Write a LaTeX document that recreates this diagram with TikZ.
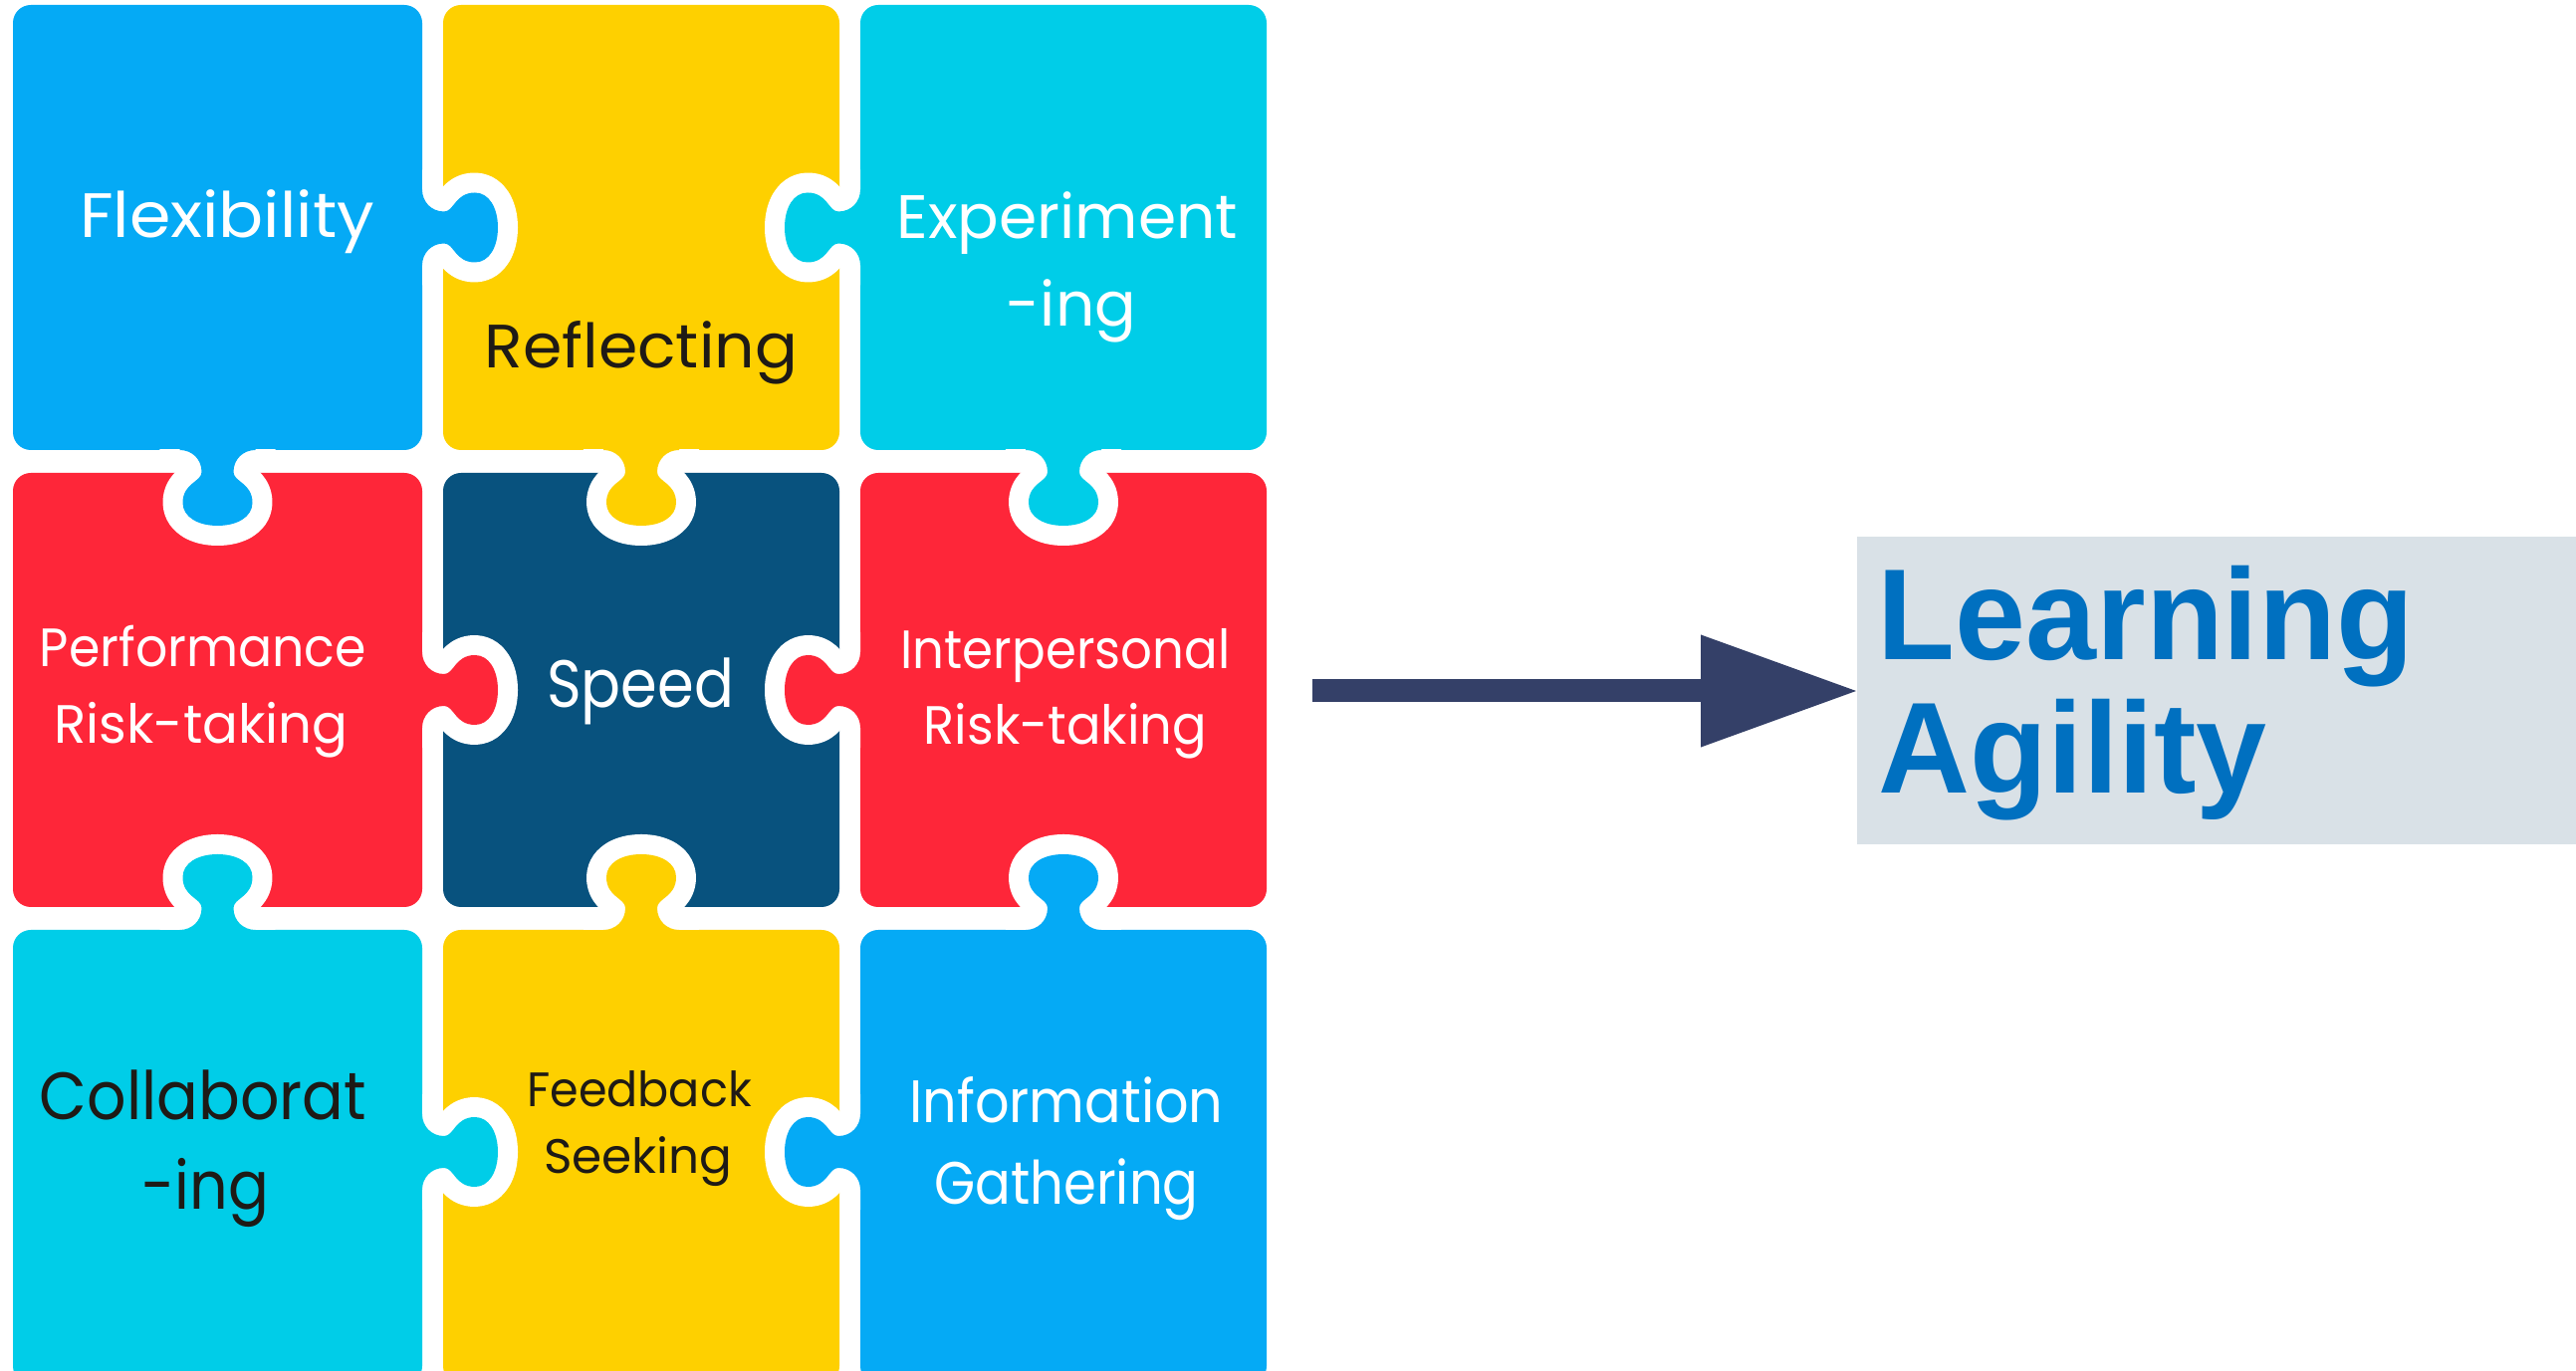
\documentclass[tikz,border=0pt]{standalone}
\usepackage{graphicx}
\usepackage{fontspec}
\setmainfont{Poppins}
\newfontfamily\agfont[FakeStretch=0.98]{Liberation Sans}
\usetikzlibrary{arrows.meta}

\definecolor{pzblue}{RGB}{5,170,245}
\definecolor{pzyellow}{RGB}{254,208,0}
\definecolor{pzcyan}{RGB}{0,205,232}
\definecolor{pzred}{RGB}{254,38,57}
\definecolor{pznavy}{RGB}{8,82,126}
\definecolor{inkdark}{RGB}{30,26,22}
\definecolor{arrowslate}{RGB}{52,64,104}
\definecolor{boxgrey}{RGB}{217,225,231}
\definecolor{agblue}{RGB}{0,112,192}

% horizontal squeeze/stretch of a label
\newcommand\hs[2]{\scalebox{#1}[1]{#2}}

% outline of one puzzle tab, in local units: u points away from the
% owning piece, v runs across the tab
\newcommand\tabshape{(-4,-38) -- (0,-38)
  .. controls (0,-26) and (9,-16) .. (22,-16)
  .. controls (32,-16) and (33,-35) .. (53,-35)
  .. controls (67,-35) and (76,-20) .. (76,0)
  .. controls (76,20) and (67,35) .. (53,35)
  .. controls (33,35) and (32,16) .. (22,16)
  .. controls (9,16) and (0,26) .. (0,38) -- (-4,38) -- cycle}

% #1,#2: point on the owning piece's edge; #3: direction style; #4: colour
\newcommand\puzzletab[4]{%
  \begin{scope}[shift={(#1,#2)},#3]
    \begin{scope}
      \clip (0,-130) rectangle (150,130);
      \draw[white, line width=0.4cm, line join=round] \tabshape;
    \end{scope}
    \fill[#4] \tabshape;
  \end{scope}}

\tikzset{
  tabright/.style={x={(0.01cm,0)},y={(0,0.01cm)}},
  tableft/.style={x={(-0.01cm,0)},y={(0,0.01cm)}},
  tabdown/.style={x={(0,-0.01cm)},y={(0.01cm,0)}},
  tabup/.style={x={(0,0.01cm)},y={(0.01cm,0)}},
  piece/.style={rounded corners=0.18cm},
  lbl/.style={inner sep=0pt, anchor=base},
  fs/.style={font=\fontsize{#1pt}{#1pt}\selectfont},
  light/.style={text=white},
  dark/.style={text=inkdark},
  agbox/.style={fill=boxgrey, draw=none, minimum width=7.3cm, minimum height=3.09cm, inner sep=0pt},
  agtext/.style={inner sep=0pt, anchor=base west, text=agblue,
    font=\agfont\bfseries\fontsize{37pt}{38pt}\selectfont},
  bigarrow/.style={draw=arrowslate, line width=0.23cm,
    -{Triangle[length=1.56cm, width=1.13cm, line width=0pt]}},
}

\begin{document}
\begin{tikzpicture}[x={(0.01cm,0)}, y={(0,-0.01cm)}]
\useasboundingbox (0,0) rectangle (2587,1377);
\clip (0,0) rectangle (2587,1377);

% the nine pieces
\fill[pzblue,   piece] (13,5)    rectangle (424,452);
\fill[pzyellow, piece] (445,5)   rectangle (843,452);
\fill[pzcyan,   piece] (864,5)   rectangle (1272,452);
\fill[pzred,    piece] (13,475)  rectangle (424,911);
\fill[pznavy,   piece] (445,475) rectangle (843,911);
\fill[pzred,    piece] (864,475) rectangle (1272,911);
\fill[pzcyan,   piece] (13,934)  rectangle (424,1390);
\fill[pzyellow, piece] (445,934) rectangle (843,1390);
\fill[pzblue,   piece] (864,934) rectangle (1272,1390);

% interlocking tabs
\puzzletab{424}{228.5}{tabright}{pzblue}
\puzzletab{218.5}{452}{tabdown}{pzblue}
\puzzletab{644}{452}{tabdown}{pzyellow}
\puzzletab{864}{228.5}{tableft}{pzcyan}
\puzzletab{1068}{452}{tabdown}{pzcyan}
\puzzletab{424}{693}{tabright}{pzred}
\puzzletab{864}{693}{tableft}{pzred}
\puzzletab{218.5}{934}{tabup}{pzcyan}
\puzzletab{424}{1157}{tabright}{pzcyan}
\puzzletab{644}{934}{tabup}{pzyellow}
\puzzletab{1068}{934}{tabup}{pzblue}
\puzzletab{864}{1157}{tableft}{pzblue}

% labels
\node[lbl, fs=17.9, light] (flex)   at (228,239)  {\hs{1.06}{Flexibility}};
\node[lbl, fs=17.5, dark]  (refl)   at (644,370)  {\hs{1.03}{Reflecting}};
\node[lbl, fs=17.5, light] (expA)   at (1072,240) {Experiment};
\node[lbl, fs=17.5, light] (expB)   at (1076,328) {-ing};
\node[lbl, fs=15.4, light] (perfA)  at (204,670)  {\hs{0.934}{Performance}};
\node[lbl, fs=15.4, light] (perfB)  at (202,747)  {\hs{0.98}{Risk-taking}};
\node[lbl, fs=19.1, light] (speed)  at (643,711)  {\hs{0.88}{Speed}};
\node[lbl, fs=15.4, light] (interA) at (1070,672) {\hs{0.92}{Interpersonal}};
\node[lbl, fs=15.4, light] (interB) at (1070,748) {\hs{0.945}{Risk-taking}};
\node[lbl, fs=19.1, dark]  (collA)  at (204,1125) {\hs{0.92}{Collaborat}};
\node[lbl, fs=19.1, dark]  (collB)  at (206,1215) {\hs{0.9}{-ing}};
\node[lbl, fs=13.8, dark]  (feedA)  at (642,1112) {\hs{0.95}{Feedback}};
\node[lbl, fs=13.8, dark]  (feedB)  at (641,1179) {Seeking};
\node[lbl, fs=17.1, light] (infoA)  at (1071,1128) {\hs{0.9}{Information}};
\node[lbl, fs=17.1, light] (infoB)  at (1071,1210) {\hs{0.88}{Gathering}};

% outcome box and arrow
\node[agbox] (agility) at (2230,693.5) {};
\node[agtext] (agA) at (1885,663) {Learning};
\node[agtext] (agB) at (1886,797) {Agility};
\coordinate (arrowstart) at (1318,694);
\draw[bigarrow] (arrowstart) -- (arrowstart -| agility.west);
\end{tikzpicture}
\end{document}
